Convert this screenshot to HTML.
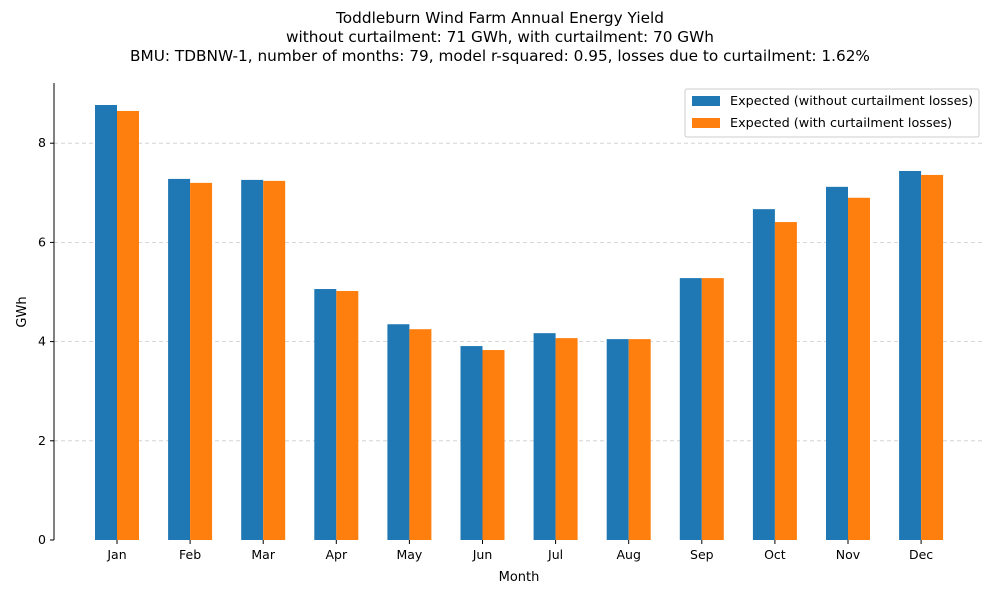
<!DOCTYPE html>
<html><head><meta charset="utf-8"><style>
body{margin:0;background:#fff;}
svg{font-family:"DejaVu Sans","Liberation Sans",sans-serif;}
</style></head><body>
<svg id="chart" width="1000" height="600">
<g font-size="15.3" text-anchor="middle" fill="#000">
<text x="500" y="23">Toddleburn Wind Farm Annual Energy Yield</text>
<text x="500" y="42">without curtailment: 71 GWh, with curtailment: 70 GWh</text>
<text x="500" y="61">BMU: TDBNW-1, number of months: 79, model r-squared: 0.95, losses due to curtailment: 1.62%</text>
</g>
<g id="grid"></g><g id="bars"></g><g id="axes"></g>
<text x="519" y="581" font-size="13" text-anchor="middle">Month</text>
<text transform="translate(26,312) rotate(-90)" font-size="13" text-anchor="middle">GWh</text>
<g>
<rect x="685" y="89" width="294" height="48" fill="#fff" stroke="#ccc" rx="2"/>
<rect x="692" y="96" width="28" height="10" fill="#1f77b4"/>
<text x="730" y="105" font-size="12.8">Expected (without curtailment losses)</text>
<rect x="692" y="118" width="28" height="10" fill="#ff7f0e"/>
<text x="730" y="127" font-size="12.8">Expected (with curtailment losses)</text>
</g>
</svg>
<script>
const months=["Jan","Feb","Mar","Apr","May","Jun","Jul","Aug","Sep","Oct","Nov","Dec"];
const withoutCurtailment=[8.77,7.28,7.26,5.06,4.35,3.91,4.17,4.05,5.28,6.67,7.12,7.44];
const withCurtailment=[8.65,7.20,7.24,5.02,4.25,3.83,4.07,4.05,5.28,6.41,6.90,7.36];
const yTicks=[0,2,4,6,8];
const NS="http://www.w3.org/2000/svg";
const y0=540,yScale=49.6,x0=117,step=73.1,bw=22,left=54,right=985;
const Y=v=>y0-v*yScale, X=i=>x0+i*step;
function mk(t,a,p){const e=document.createElementNS(NS,t);for(const k in a)e.setAttribute(k,a[k]);p.appendChild(e);return e;}
const grid=document.getElementById('grid'),bars=document.getElementById('bars'),axes=document.getElementById('axes');
yTicks.forEach(t=>{
 if(t>0){const g=mk('line',{x1:left,x2:right,y1:Y(t),y2:Y(t),stroke:'#ccc','stroke-dasharray':'4,3','stroke-width':0.8},grid);
 
 }
 const tk=mk('line',{x1:left-4,x2:left,y1:Y(t),y2:Y(t),stroke:'#000'},axes);
 
 
 const l=mk('text',{x:left-8,y:Y(t)+4,'font-size':12.5,'text-anchor':'end'},axes);l.textContent=t;
 
 
});
const sp=mk('line',{x1:left,x2:left,y1:83,y2:y0,stroke:'#000'},axes);


months.forEach((m,i)=>{
 const a=mk('rect',{x:X(i)-bw,y:Y(withoutCurtailment[i]),width:bw,height:withoutCurtailment[i]*yScale,fill:'#1f77b4'},bars);
 
 
 const b=mk('rect',{x:X(i),y:Y(withCurtailment[i]),width:bw,height:withCurtailment[i]*yScale,fill:'#ff7f0e'},bars);
 
 
 const tk=mk('line',{x1:X(i),x2:X(i),y1:y0,y2:y0+4,stroke:'#000'},axes);
 
 
 const l=mk('text',{x:X(i),y:y0+19,'font-size':12.5,'text-anchor':'middle'},axes);l.textContent=m;
 
 
});
</script>
</body></html>
